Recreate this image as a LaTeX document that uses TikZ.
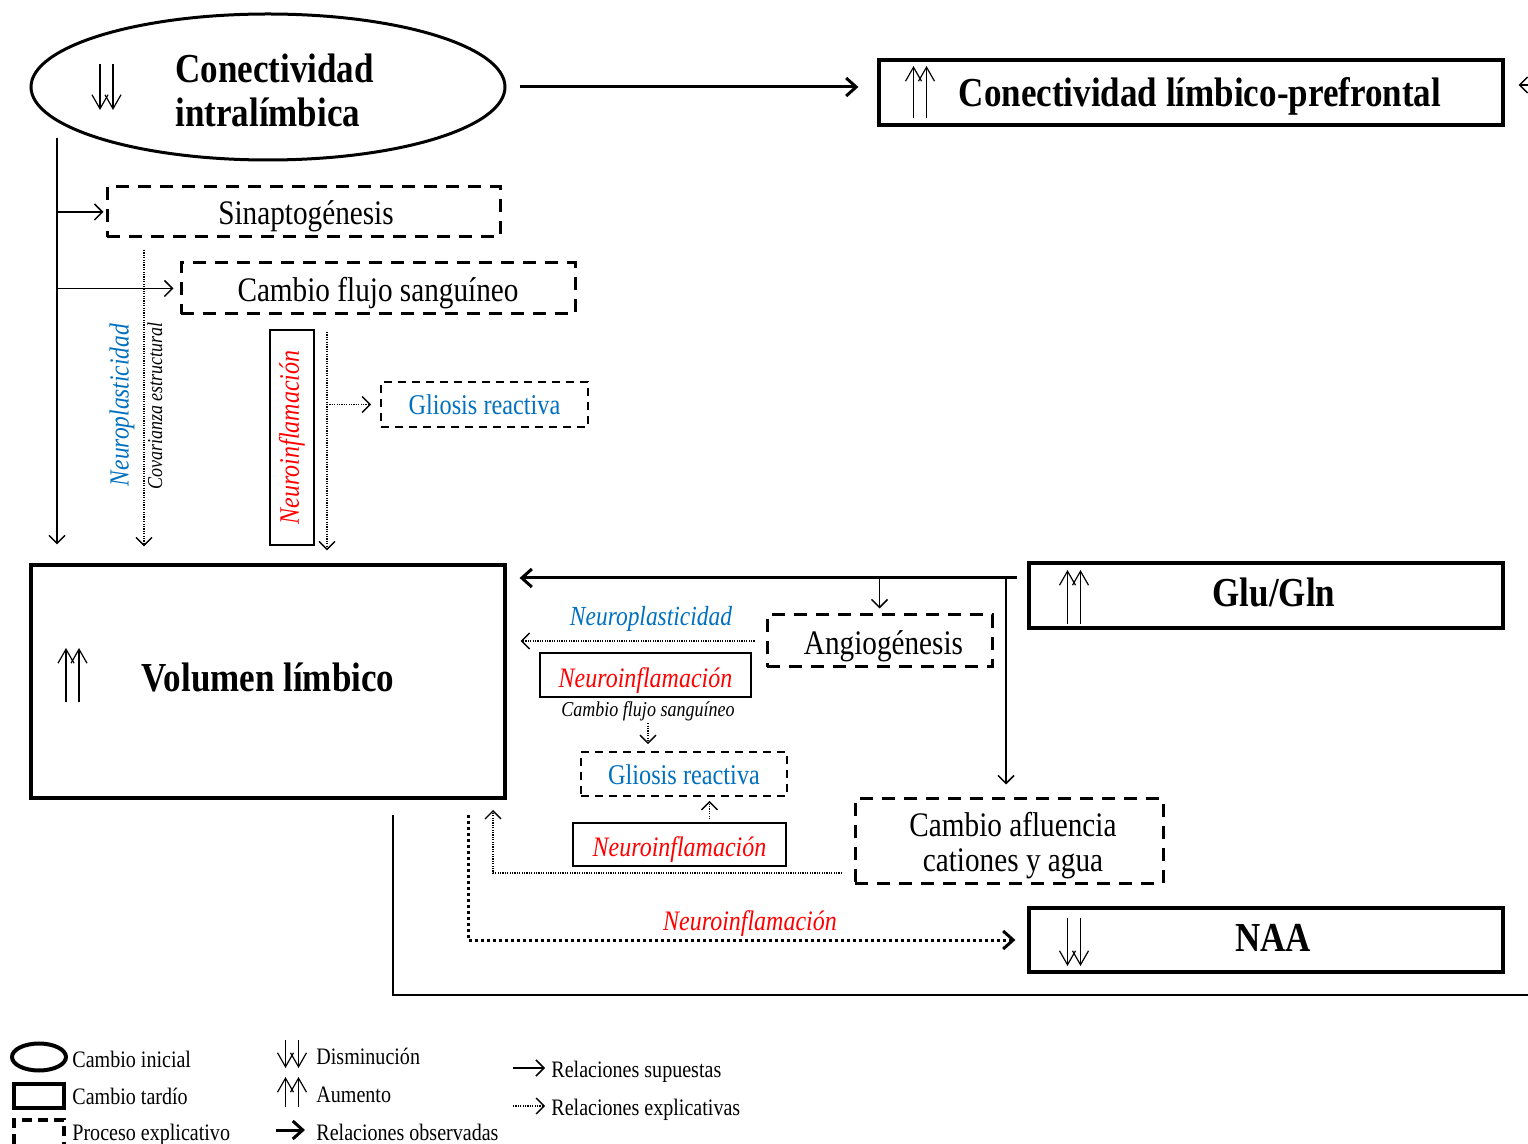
\documentclass[tikz,border=0pt]{standalone}
\usepackage{fontspec}
\setmainfont[FakeStretch=0.85]{Liberation Serif}
\usetikzlibrary{arrows.meta,shapes.geometric}
\definecolor{azul}{RGB}{0,112,192}
\definecolor{rojo}{RGB}{255,0,0}
% move a label up or down inside its box without changing the box
\newcommand\vshift[2]{\raisebox{#1}[\height][\depth]{#2}}
\tikzset{
  late/.style={draw, line width=1.6pt, inner sep=0pt},
  expbox/.style={draw, line width=1.5pt, dash pattern=on 6.5pt off 4.5pt, inner sep=0pt},
  expthin/.style={draw, line width=0.8pt, dash pattern=on 4pt off 3pt, inner sep=0pt},
  redbox/.style={draw, line width=0.8pt, inner sep=0pt},
  boldtxt/.style={font=\fontsize{20.6}{22}\selectfont\bfseries},
  maintxt/.style={font=\fontsize{17.2}{17.5}\selectfont},
  glitxt/.style={font=\fontsize{14.3}{16}\selectfont, text=azul},
  inftxt/.style={font=\fontsize{14.1}{16}\selectfont\itshape, text=rojo},
  plastxt/.style={font=\fontsize{13.8}{16}\selectfont\itshape, text=azul},
  smalltxt/.style={font=\fontsize{10.6}{12}\selectfont\itshape, inner sep=0pt},
  legtxt/.style={font=\fontsize{11.8}{13}\selectfont, anchor=west, inner sep=0pt},
  supuesta/.style={-{Straight Barb[length=4pt,width=8pt,line width=0.75pt]}, line width=0.75pt},
  obs/.style={-{Straight Barb[length=5pt,width=9pt,line width=1.5pt]}, line width=1.5pt},
  expl/.style={-{Straight Barb[length=4pt,width=8pt,line width=0.7pt]}, line width=0.6pt, dash pattern=on 0.6pt off 0.6pt},
  explthick/.style={-{Straight Barb[length=5pt,width=9pt,line width=1.5pt]}, line width=1.5pt, dash pattern=on 1.5pt off 1.5pt},
  twin/.style={-{Straight Barb[length=7pt,width=8pt,line width=0.6pt]}, line width=0.6pt},
  pics/twinup/.style={code={
    \draw[twin] (-6.5,#1) -- (-6.5,-#1);
    \draw[twin] (6.5,#1) -- (6.5,-#1);
  }},
  pics/twindown/.style={code={
    \draw[twin] (-6.5,-#1) -- (-6.5,#1);
    \draw[twin] (6.5,-#1) -- (6.5,#1);
  }},
}
\begin{document}
\begin{tikzpicture}[x=0.5pt,y=-0.5pt]
\path[fill=white, use as bounding box] (0,0) rectangle (1528,1144);

% --- main findings ---
\node[ellipse, draw, line width=1.5pt, minimum width=237pt, minimum height=73pt, inner sep=0pt] (ci) at (268,87) {};
\node[boldtxt, align=left, anchor=west, inner sep=0pt] (ciT) at (175,90) {Conectividad\\intralímbica};
\node[late, boldtxt, minimum width=312pt, minimum height=32.5pt] (lp) at (1191,92.5) {\vshift{-2pt}{\hspace*{9pt}Conectividad límbico-prefrontal}};
\node[late, boldtxt, minimum width=237pt, minimum height=116.5pt] (vol) at (268,681.5) {\vshift{2pt}{Volumen límbico}};
\node[late, boldtxt, minimum width=237pt, minimum height=32.5pt] (glu) at (1266,595.5) {\vshift{1.5pt}{\hspace*{8pt}Glu/Gln}};
\node[late, boldtxt, minimum width=237pt, minimum height=32pt] (naa) at (1266,940) {\vshift{1pt}{\hspace*{7pt}NAA}};

% --- explanatory processes ---
\node[expbox, maintxt, minimum width=196.5pt, minimum height=25pt] (sin) at (303.5,212) {\vshift{-2pt}{\hspace*{2.5pt}Sinaptogénesis}};
\node[expbox, maintxt, minimum width=197pt, minimum height=25.5pt] (cfs) at (378,288.5) {\vshift{-2.5pt}{Cambio flujo sanguíneo}};
\node[redbox, inftxt, rotate=90, minimum width=107.5pt, minimum height=22pt] (nif1) at (292,437.5) {Neuroinflamación};
\node[expthin, glitxt, minimum width=103.5pt, minimum height=22.5pt] (gl1) at (484.5,404.5) {Gliosis reactiva};
\node[expbox, maintxt, minimum width=112.5pt, minimum height=26pt] (ang) at (879.5,641) {\vshift{-2.5pt}{\hspace*{4pt}Angiogénesis}};
\node[redbox, inftxt, minimum width=105.5pt, minimum height=22pt] (nif2) at (645.5,675) {\vshift{-3pt}{Neuroinflamación}};
\node[smalltxt] (cfs2) at (648,711) {Cambio flujo sanguíneo};
\node[expthin, glitxt, minimum width=103pt, minimum height=22pt] (gl2) at (684,774) {\vshift{-0.5pt}{Gliosis reactiva}};
\node[redbox, inftxt, minimum width=106.5pt, minimum height=21.5pt] (nif3) at (679.5,844.5) {\vshift{-2.5pt}{Neuroinflamación}};
\node[expbox, maintxt, minimum width=154pt, minimum height=42pt] (caf) at (1009,841) {\vshift{-3pt}{\hspace*{4pt}\begin{tabular}{@{}c@{}}Cambio afluencia\\cationes y agua\end{tabular}}};

% --- connector labels ---
\node[plastxt, rotate=90] (np1) at (122,405) {Neuroplasticidad};
\node[smalltxt, rotate=90] (cov) at (155,406) {Covarianza estructural};
\node[plastxt] (np2) at (651,619) {Neuroplasticidad};
\node[inftxt] (nif4) at (750,924) {Neuroinflamación};

% --- trend icons ---
\pic at (106.5,87) {twindown=23};
\pic at (920,92) {twinup=26};
\pic at (72.5,675) {twinup=27};
\pic at (1074,597) {twinup=27};
\pic at (1074,942) {twindown=24};

% --- connectors from intralimbic connectivity ---
\draw[obs, shorten <=6.5pt, shorten >=9.5pt] (ci.east) -- (ci.east -| lp.west);
\coordinate (rin) at (1540,85);
\draw[supuesta, shorten >=7pt] (rin) -- (rin -| lp.east);
\coordinate (l0) at (57,138);
\draw[supuesta, shorten >=9.5pt] (l0) -- (l0 |- vol.north);
\draw[supuesta, shorten >=1pt] (l0 |- sin.west) -- (sin.west);
\draw[supuesta, shorten >=3pt] (l0 |- cfs.west) -- (cfs.west);
\coordinate (d0) at (144,250);
\draw[expl, shorten >=8.5pt] (d0) -- (d0 |- vol.north);
\coordinate (d1) at (327,332);
\draw[expl, shorten >=6.5pt] (d1) -- (d1 |- vol.north);
\draw[expl, shorten >=4.5pt] (d1 |- gl1.west) -- (gl1.west);

% --- connectors from Glu/Gln ---
\coordinate (g0) at (1017,578);
\draw[obs, shorten >=6.5pt] (g0) -- (g0 -| vol.east);
\draw[supuesta, shorten >=2.5pt] (g0 -| ang.north) -- (ang.north);
\coordinate (g1) at (1006,578);
\draw[supuesta, shorten >=6.5pt] (g1) -- (g1 |- caf.north);
\draw[expl, shorten <=5.5pt, shorten >=7pt] (ang.west) -- (ang.west -| vol.east);
\draw[expl, shorten <=1pt, shorten >=3.5pt] (cfs2.south) -- (cfs2.south |- gl2.north);
\draw[expl, shorten <=1.5pt, shorten >=2pt] ([xshift=15pt]nif3.north) -- ([xshift=15pt]nif3.north |- gl2.south);
\coordinate (c0) at (842,873);
\coordinate (c1) at (493,798);
\draw[expl, shorten >=6pt] (c0) -| (c1);

% --- connectors from limbic volume ---
\coordinate (n0) at (468,815);
\draw[explthick, shorten >=6pt] (n0) |- (naa.west);
\coordinate (b0) at (393,815);
\coordinate (b1) at (1540,995);
\draw[line width=0.9pt] (b0) |- (b1);

% --- legend ---
\node[ellipse, draw, line width=2pt, minimum width=27pt, minimum height=13.5pt, inner sep=0pt] (lgE) at (39,1057) {};
\node[draw, line width=2pt, minimum width=25pt, minimum height=12pt, inner sep=0pt] (lgR) at (39,1095.5) {};
\node[draw, line width=2pt, dash pattern=on 5pt off 3pt, minimum width=25pt, minimum height=15pt, inner sep=0pt] (lgD) at (39,1135) {};
\node[legtxt] (tE) at (72,1059) {Cambio inicial};
\node[legtxt] (tR) at (72,1096) {Cambio tardío};
\node[legtxt] (tD) at (72,1135) {Proceso explicativo};
\pic at (292,1054) {twindown=14};
\pic at (292,1092) {twinup=15};
\node[legtxt] (tDi) at (316,1056) {Disminución};
\node[legtxt] (tAu) at (316,1095) {Aumento};
\coordinate (lo0) at (276,1130);
\coordinate (lo1) at (305,1130);
\draw[obs] (lo0) -- (lo1);
\node[legtxt] (tOb) at (316,1132) {Relaciones observadas};
\coordinate (ls0) at (513,1068);
\coordinate (ls1) at (545,1068);
\draw[supuesta] (ls0) -- (ls1);
\node[legtxt] (tSu) at (551,1072) {Relaciones supuestas};
\coordinate (le0) at (513,1106);
\coordinate (le1) at (545,1106);
\draw[expl] (le0) -- (le1);
\node[legtxt] (tEx) at (551,1110) {Relaciones explicativas};
\end{tikzpicture}
\end{document}
